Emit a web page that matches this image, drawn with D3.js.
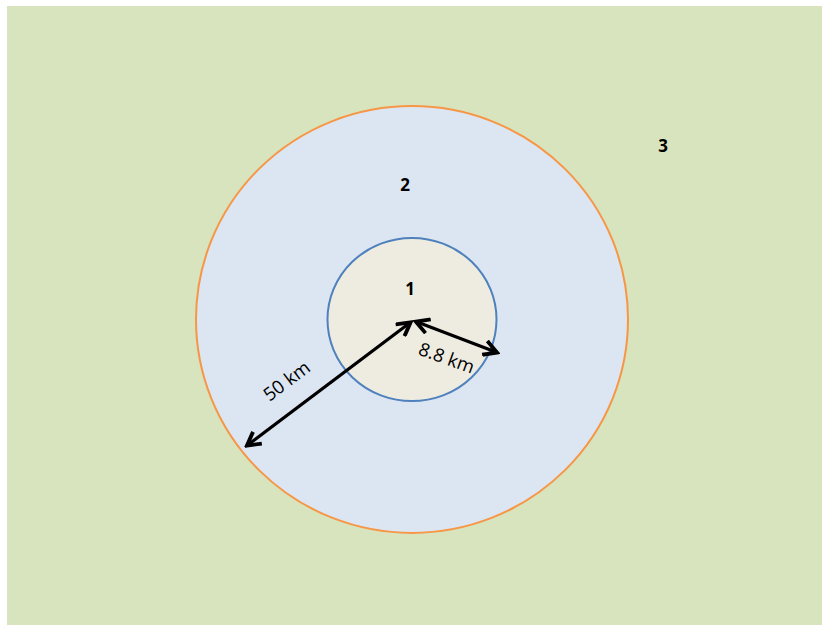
<!DOCTYPE html>
<html><head><meta charset="utf-8">
<script src="https://cdn.jsdelivr.net/npm/d3@7"></script>
<style>body{margin:0;background:#fff}svg{display:block}</style>
</head><body>
<script>
// Data
const zoneLabels = ["1", "2", "3"];
const radiiKm = [8.8, 50];
const radiusLabels = ["8.8 km", "50 km"];
const arrowAnglesDeg = [20.9, 143]; // direction of radius arrows

const W = 826, H = 625;
const svg = d3.select("body").append("svg").attr("width", W).attr("height", H);

// schematic (non-linear) radius scale
const rScale = d3.scaleLinear().domain([0, 8.8, 50]).range([0, 84.5, 216]);
const cx = 412, cy = 319.5;

svg.append("rect").attr("x", 7).attr("y", 6).attr("width", 815).attr("height", 619).attr("fill", "#D7E4BD");

const fills = ["#EEECE1", "#DCE6F2"];
const strokes = ["#4F81BD", "#F79646"];
const yRatio = [0.965, 0.988];
[1, 0].forEach(i => {
  svg.append("ellipse").attr("cx", cx).attr("cy", cy)
    .attr("rx", rScale(radiiKm[i])).attr("ry", rScale(radiiKm[i]) * yRatio[i])
    .attr("fill", fills[i]).attr("stroke", strokes[i]).attr("stroke-width", 2);
});

const defs = svg.append("defs");
defs.append("marker").attr("id", "ah").attr("viewBox", "0 0 12 12").attr("refX", 10).attr("refY", 6)
  .attr("markerWidth", 5.5).attr("markerHeight", 5.5).attr("markerUnits", "strokeWidth").attr("orient", "auto-start-reverse")
  .append("path").attr("d", "M1,1 L10,6 L1,11").attr("fill", "none").attr("stroke", "#000").attr("stroke-width", 2.6);

const arrowLen = [90, 208];
radiiKm.forEach((r, i) => {
  const a = arrowAnglesDeg[i] * Math.PI / 180;
  const L = arrowLen[i];
  const x1 = cx + 1 + 3 * Math.cos(a), y1 = cy + 1 + 3 * Math.sin(a);
  const x2 = cx + 1 + L * Math.cos(a), y2 = cy + 1 + L * Math.sin(a);
  svg.append("line").attr("x1", x1).attr("y1", y1).attr("x2", x2).attr("y2", y2)
    .attr("stroke", "#000").attr("stroke-width", 3.2)
    .attr("marker-start", "url(#ah)").attr("marker-end", "url(#ah)");
});

const lab = [
  {x: 447, y: 357, rot: 20, text: radiusLabels[0]},
  {x: 286, y: 380, rot: -37, text: radiusLabels[1]}
];
lab.forEach(d => {
  svg.append("text").attr("transform", `translate(${d.x},${d.y}) rotate(${d.rot})`)
    .attr("text-anchor", "middle").attr("dominant-baseline", "central")
    .attr("font-family", "Open Sans, sans-serif").attr("font-size", 18.5).attr("fill", "#000").text(d.text);
});

const zonePos = [[410, 288], [405, 184], [663, 145]];
zoneLabels.forEach((z, i) => {
  svg.append("text").attr("x", zonePos[i][0]).attr("y", zonePos[i][1])
    .attr("text-anchor", "middle").attr("dominant-baseline", "central")
    .attr("font-family", "Open Sans, sans-serif").attr("font-weight", "bold").attr("font-size", 17).attr("fill", "#000").text(z);
});
</script>
</body></html>
